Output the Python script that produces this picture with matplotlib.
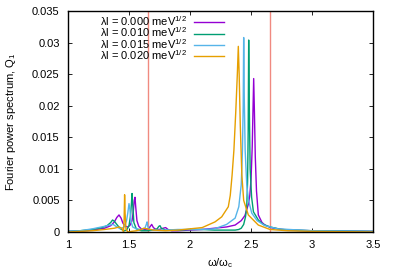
import matplotlib
matplotlib.use("Agg")
import matplotlib.pyplot as plt

plt.rcParams.update({
    "font.family": "Liberation Sans", "font.size": 8,
    "mathtext.fontset": "custom", "mathtext.rm": "Liberation Sans",
    "mathtext.it": "Liberation Sans", "mathtext.bf": "Liberation Sans",
})

PURPLE, GREEN, BLUE, ORANGE, RED = "#9400d3", "#009e73", "#56b4e9", "#e69f00", "#f08a80"

# spectra (omega/omega_c, Q1)
x0 = [1.0, 1.1, 1.2, 1.3, 1.35, 1.38, 1.40, 1.418, 1.435, 1.45, 1.47, 1.49, 1.51, 1.525,
      1.535, 1.543, 1.549, 1.555, 1.565, 1.58, 1.60, 1.63, 1.66, 1.675, 1.686, 1.70, 1.72,
      1.75, 1.78, 1.80, 1.82, 1.85, 1.9, 2.0, 2.1, 2.2, 2.3, 2.37, 2.42, 2.45, 2.48, 2.49,
      2.50, 2.51, 2.516, 2.522, 2.528, 2.535, 2.545, 2.56, 2.59, 2.615, 2.66, 2.72, 2.8,
      3.0, 3.5]
y0 = [0.0001, 0.00015, 0.0003, 0.0006, 0.001, 0.0016, 0.0023, 0.0027, 0.0022, 0.0014,
      0.0009, 0.0008, 0.0011, 0.0018, 0.0032, 0.0050, 0.0055, 0.0040, 0.0018, 0.0009,
      0.0005, 0.0004, 0.0005, 0.0009, 0.0012, 0.0007, 0.0004, 0.0004, 0.0006, 0.0007,
      0.0004, 0.0002, 0.0002, 0.0003, 0.0004, 0.0006, 0.0008, 0.0011, 0.0018, 0.0026,
      0.0045, 0.0058, 0.0082, 0.0135, 0.019, 0.0243, 0.019, 0.012, 0.0065, 0.0027,
      0.0015, 0.0011, 0.0007, 0.0005, 0.0003, 0.0002, 0.0001]

x1 = [1.0, 1.1, 1.2, 1.28, 1.32, 1.35, 1.365, 1.38, 1.40, 1.43, 1.46, 1.48, 1.50, 1.512,
      1.52, 1.525, 1.530, 1.54, 1.56, 1.60, 1.65, 1.70, 1.73, 1.745, 1.754, 1.765, 1.80,
      1.9, 2.0, 2.1, 2.2, 2.3, 2.37, 2.40, 2.42, 2.44, 2.455, 2.465, 2.472, 2.477, 2.481,
      2.486, 2.493, 2.505, 2.52, 2.56, 2.60, 2.656, 2.75, 3.0, 3.5]
y1 = [0.0001, 0.0002, 0.0004, 0.0007, 0.0010, 0.0015, 0.0019, 0.0017, 0.0012, 0.0005,
      0.0002, 0.0003, 0.0010, 0.0025, 0.0045, 0.0061, 0.0045, 0.0015, 0.0005, 0.0002,
      0.0002, 0.0003, 0.0005, 0.0009, 0.0010, 0.0006, 0.0003, 0.0003, 0.0004, 0.0004,
      0.0003, 0.0003, 0.0003, 0.0004, 0.0006, 0.0012, 0.0024, 0.0040, 0.0080, 0.016,
      0.0304, 0.020, 0.010, 0.0055, 0.0032, 0.0019, 0.0012, 0.0008, 0.0004, 0.0002, 0.0001]

x2 = [1.0, 1.1, 1.2, 1.3, 1.34, 1.37, 1.40, 1.43, 1.46, 1.48, 1.49, 1.50, 1.508, 1.515,
      1.53, 1.56, 1.60, 1.63, 1.642, 1.648, 1.655, 1.67, 1.72, 1.8, 1.9, 2.0, 2.1, 2.2,
      2.3, 2.37, 2.40, 2.42, 2.43, 2.436, 2.44, 2.445, 2.452, 2.465, 2.48, 2.506, 2.55,
      2.615, 2.72, 3.0, 3.5]
y2 = [0.0001, 0.0002, 0.0005, 0.0009, 0.0011, 0.0012, 0.0008, 0.0005, 0.0008, 0.0018,
      0.0030, 0.0045, 0.0035, 0.0018, 0.0008, 0.0005, 0.0004, 0.0006, 0.0012, 0.0016,
      0.0008, 0.0004, 0.0003, 0.0003, 0.0004, 0.0004, 0.0004, 0.0005, 0.0012, 0.0022,
      0.0040, 0.0075, 0.013, 0.020, 0.0308, 0.021, 0.013, 0.0075, 0.0050, 0.0030, 0.0018,
      0.0010, 0.0005, 0.0002, 0.0001]

x3 = [1.0, 1.1, 1.2, 1.3, 1.38, 1.42, 1.44, 1.455, 1.460, 1.464, 1.468, 1.475, 1.49, 1.52,
      1.56, 1.60, 1.62, 1.65, 1.70, 1.80, 1.9, 2.0, 2.1, 2.205, 2.26, 2.314, 2.33, 2.345,
      2.36, 2.375, 2.388, 2.396, 2.403, 2.412, 2.425, 2.44, 2.478, 2.56, 2.656, 2.8, 3.0, 3.5]
y3 = [0.0, 0.0001, 0.0002, 0.0004, 0.0006, 0.0008, 0.0006, 0.0, 0.0020, 0.0059, 0.0030,
      0.0005, 0.0, 0.0001, 0.0002, 0.0004, 0.0006, 0.0005, 0.0003, 0.0002, 0.0003, 0.0005,
      0.0007, 0.0016, 0.0024, 0.0040, 0.0058, 0.0090, 0.0130, 0.019, 0.025, 0.0294, 0.025,
      0.017, 0.0090, 0.0050, 0.0027, 0.0011, 0.0004, 0.0002, 0.0001, 0.0]

labels = ["λl = 0.000 meV$^{1/2}$", "λl = 0.010 meV$^{1/2}$",
          "λl = 0.015 meV$^{1/2}$", "λl = 0.020 meV$^{1/2}$"]
vlines = [1.656, 2.656]
xticks = [1, 1.5, 2, 2.5, 3, 3.5]
xticklabels = ["1", "1.5", "2", "2.5", "3", "3.5"]
yticks = [0, 0.005, 0.01, 0.015, 0.02, 0.025, 0.03, 0.035]
yticklabels = ["0", "0.005", "0.01", "0.015", "0.02", "0.025", "0.03", "0.035"]

fig = plt.figure(figsize=(3.99, 2.79), dpi=100)
ax = fig.add_axes([68 / 399, 1 - 232 / 279, 305 / 399, 221 / 279])

for v in vlines:
    ax.axvline(v, color=RED, lw=1.0, zorder=1)
for xs, ys, col, lab in zip([x0, x1, x2, x3], [y0, y1, y2, y3],
                            [PURPLE, GREEN, BLUE, ORANGE], labels):
    ax.plot(xs, ys, color=col, lw=1.0, label=lab, zorder=2)

ax.set_xlim(1, 3.5)
ax.set_ylim(0, 0.035)
ax.set_xticks(xticks)
ax.set_xticklabels(xticklabels)
ax.set_yticks(yticks)
ax.set_yticklabels(yticklabels)
ax.tick_params(direction="in", top=True, right=True, length=3, width=0.6, pad=6)
for s in ax.spines.values():
    s.set_linewidth(1.0)
ax.set_xlabel("ω/ω$_{\\rm c}$")
ax.xaxis.set_label_coords(0.5, -0.11)
ax.set_ylabel("Fourier power spectrum, Q$_1$")
ax.yaxis.set_label_coords(-0.165, 0.5)

ax.legend(loc="upper left", bbox_to_anchor=(0.105, 0.985), frameon=False, markerfirst=False,
          handlelength=2.7, handletextpad=0.65, labelspacing=-0.22, borderpad=0,
          borderaxespad=0)

fig.savefig("out.png", dpi=100)
